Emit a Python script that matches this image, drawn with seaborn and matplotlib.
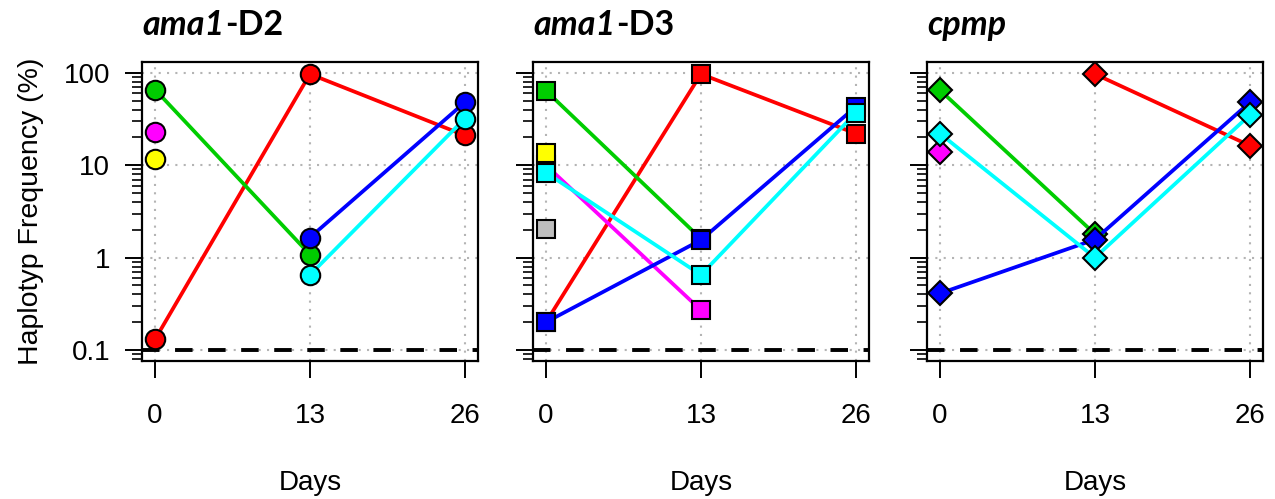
import numpy as np
import pandas as pd
import matplotlib
matplotlib.use("Agg")
import matplotlib.pyplot as plt
from matplotlib.ticker import LogLocator, NullFormatter, FixedLocator
import seaborn as sns

nan = np.nan

DAYS = [0, 13, 26]
HAP_ORDER = ["red", "green", "magenta", "yellow", "grey", "blue", "cyan"]
HAP_COLORS = {
    "red": "#FF0000", "green": "#00CD00", "magenta": "#FF00FF",
    "yellow": "#FFFF00", "grey": "#BEBEBE", "blue": "#0000FF", "cyan": "#00FFFF",
}

# haplotype frequency (%) at day 0, 13, 26
d2_red     = [0.13, 97, 21]
d2_green   = [66, 1.08, nan]
d2_magenta = [23, nan, nan]
d2_yellow  = [11.7, nan, nan]
d2_blue    = [nan, 1.65, 48]
d2_cyan    = [nan, 0.65, 32]

d3_red     = [0.2, 97, 22]
d3_green   = [64, 1.6, nan]
d3_magenta = [10, 0.27, nan]
d3_yellow  = [13.5, nan, nan]
d3_grey    = [2.05, nan, nan]
d3_blue    = [0.2, 1.55, 43]
d3_cyan    = [8.3, 0.65, 37]

cp_red     = [nan, 97, 16.3]
cp_green   = [65, 1.8, nan]
cp_magenta = [14, nan, nan]
cp_blue    = [0.41, 1.57, 48]
cp_cyan    = [22, 1.0, 35]

DETECTION_LIMIT = 0.1
Y_TICKS = [0.1, 1, 10, 100]
Y_TICKLABELS = ["0.1", "1", "10", "100"]


def to_long(series):
    rows = []
    for hap, vals in series.items():
        for d, v in zip(DAYS, vals):
            rows.append({"day": d, "freq": v, "hap": hap})
    return pd.DataFrame(rows).dropna()


PANELS = [
    (("ama1", "-D2"), "o", 14, to_long({"red": d2_red, "green": d2_green,
                                        "magenta": d2_magenta, "yellow": d2_yellow,
                                        "blue": d2_blue, "cyan": d2_cyan})),
    (("ama1", "-D3"), "s", 12.5, to_long({"red": d3_red, "green": d3_green,
                                          "magenta": d3_magenta, "yellow": d3_yellow,
                                          "grey": d3_grey, "blue": d3_blue, "cyan": d3_cyan})),
    (("cpmp", ""), "D", 12, to_long({"red": cp_red, "green": cp_green,
                                     "magenta": cp_magenta, "blue": cp_blue,
                                     "cyan": cp_cyan})),
]

sns.set_theme(style="ticks")
plt.rcParams["font.family"] = ["Liberation Sans", "DejaVu Sans"]
plt.rcParams["text.color"] = "black"
plt.rcParams["axes.labelcolor"] = "black"

fig = plt.figure(figsize=(12.75, 4.99), dpi=100)
lefts = [142, 533, 927]
GRID = dict(color="#B4B4B4", lw=1.5, ls=(0, (1, 3)), zorder=0)

for i, ((t_it, t_bold), marker, ms, df) in enumerate(PANELS):
    ax = fig.add_axes([lefts[i] / 1275, 1 - 361 / 499, 336 / 1275, 299 / 499])
    ax.set_yscale("log")
    ax.set_ylim(0.076, 131)
    ax.set_xlim(-1.09, 27.1)

    # grid
    for d in DAYS:
        ax.axvline(d, **GRID)
    for y in Y_TICKS:
        ax.axhline(y, **GRID)
    ax.axhline(DETECTION_LIMIT, color="black", lw=2.8, ls=(0, (4.5, 4)), zorder=1)

    order = [h for h in HAP_ORDER if h in set(df["hap"])]
    sns.lineplot(data=df, x="day", y="freq", hue="hap", hue_order=order,
                 palette=HAP_COLORS, estimator=None, sort=False, errorbar=None,
                 marker=marker, markersize=ms, markeredgecolor="black",
                 markeredgewidth=1.5, lw=2.7, legend=False, ax=ax, zorder=3)

    ax.xaxis.set_major_locator(FixedLocator(DAYS))
    ax.set_xticklabels([str(d) for d in DAYS])
    ax.yaxis.set_major_locator(FixedLocator(Y_TICKS))
    ax.yaxis.set_minor_locator(LogLocator(base=10, subs=np.arange(2, 10)))
    ax.yaxis.set_minor_formatter(NullFormatter())
    if i == 0:
        ax.set_yticklabels(Y_TICKLABELS)
        ax.set_ylabel("Haplotyp Frequency (%)", fontsize=20.5, labelpad=14)
    else:
        ax.set_yticklabels([])
        ax.set_ylabel("")
    ax.set_xlabel("Days", fontsize=20, labelpad=30)

    ax.tick_params(axis="both", which="major", length=12, width=1.4,
                   labelsize=20, colors="black")
    ax.tick_params(axis="x", pad=18)
    ax.tick_params(axis="y", pad=11)
    ax.tick_params(axis="y", which="minor", length=7.5, width=1.4)
    for sp in ax.spines.values():
        sp.set_visible(True)
        sp.set_color("black")
        sp.set_linewidth(1.6)

    t1 = ax.annotate(t_it, xy=(0, 1), xycoords="axes fraction",
                     xytext=(0.5, 19.5), textcoords="offset points",
                     va="baseline", ha="left", fontsize=24.5, color="black",
                     family="Lato", fontweight="bold", fontstyle="italic")
    if t_bold:
        ax.annotate(t_bold, xy=(1, 0), xycoords=t1, va="bottom", ha="left",
                    fontsize=24.5, color="black", family="Lato", fontweight="bold")

fig.savefig("out.png", dpi=100)
